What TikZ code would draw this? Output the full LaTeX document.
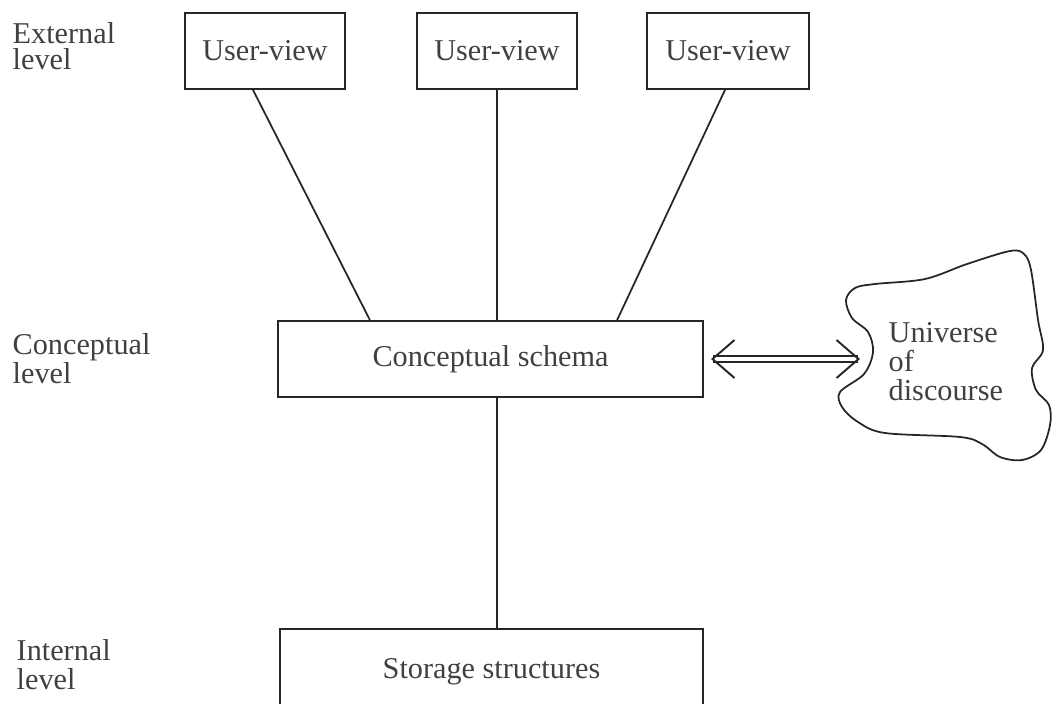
\documentclass[tikz,border=0pt]{standalone}
\usepackage{fontspec}
\setmainfont{Liberation Serif}
\usetikzlibrary{arrows.meta}
\begin{document}
\begin{tikzpicture}[x=0.01cm,y=-0.01cm,
    every node/.style={font=\fontsize{8.6}{8.2}\selectfont, text=black!75},
    box/.style={draw=black!85, line width=0.5pt, inner sep=0pt, minimum height=0.76cm},
    level/.style={align=left, anchor=north west, inner sep=0pt},
    link/.style={draw=black!85, line width=0.5pt},
    barb/.tip={Straight Barb[length=0.22cm,width=0.38cm,line width=0.55pt]}]
  \useasboundingbox (0,0) rectangle (1052,703);
  \clip (0,0) rectangle (1052,703);
  \node[level] (ext) at (12,22) {External\\[-0.9pt]level};
  \node[level] (con) at (12,333) {Conceptual\\level};
  \node[level] (int) at (16,639) {Internal\\level};
  \node[box, minimum width=1.6cm] (uv1) at (265,51) {User-view};
  \node[box, minimum width=1.6cm] (uv2) at (497,51) {User-view};
  \node[box, minimum width=1.62cm] (uv3) at (728,51) {User-view};
  \node[box, minimum width=4.25cm] (cs) at (490.5,359) {Conceptual schema};
  \node[box, minimum width=4.23cm, minimum height=0.86cm] (ss) at (491.5,672) {Storage structures};
  \node[level] (uod) at (888,322) {Universe\\of\\discourse};
  \draw[link] plot[smooth cycle, tension=0.55] coordinates {
    (846,300) (855,288) (875,284) (925,279) (967,264) (1010,251) (1024,254)
    (1031,270) (1038,320) (1043,350) (1032,368) (1036,390) (1049,405)
    (1050,425) (1041,450) (1022,460) (1000,457) (982,444) (960,437)
    (885,433) (858,422) (842,407) (840,392) (864,374) (873,352) (868,332)
    (852,318)};
  \coordinate (tip) at (860,359);
  \draw[link] ([xshift=-0.12cm]uv1.south) -- ([xshift=-1.205cm]cs.north);
  \draw[link] (uv2.south) -- ([xshift=0.065cm]cs.north);
  \draw[link] ([xshift=-0.03cm]uv3.south) -- ([xshift=1.265cm]cs.north);
  \draw[link] ([xshift=0.065cm]cs.south) -- ([xshift=0.055cm]ss.north);
  \draw[link, line width=0.55pt, double, double distance=0.9pt, {barb}-{barb},
    shorten <=0.07cm] (cs.east) -- (tip);
\end{tikzpicture}
\end{document}
